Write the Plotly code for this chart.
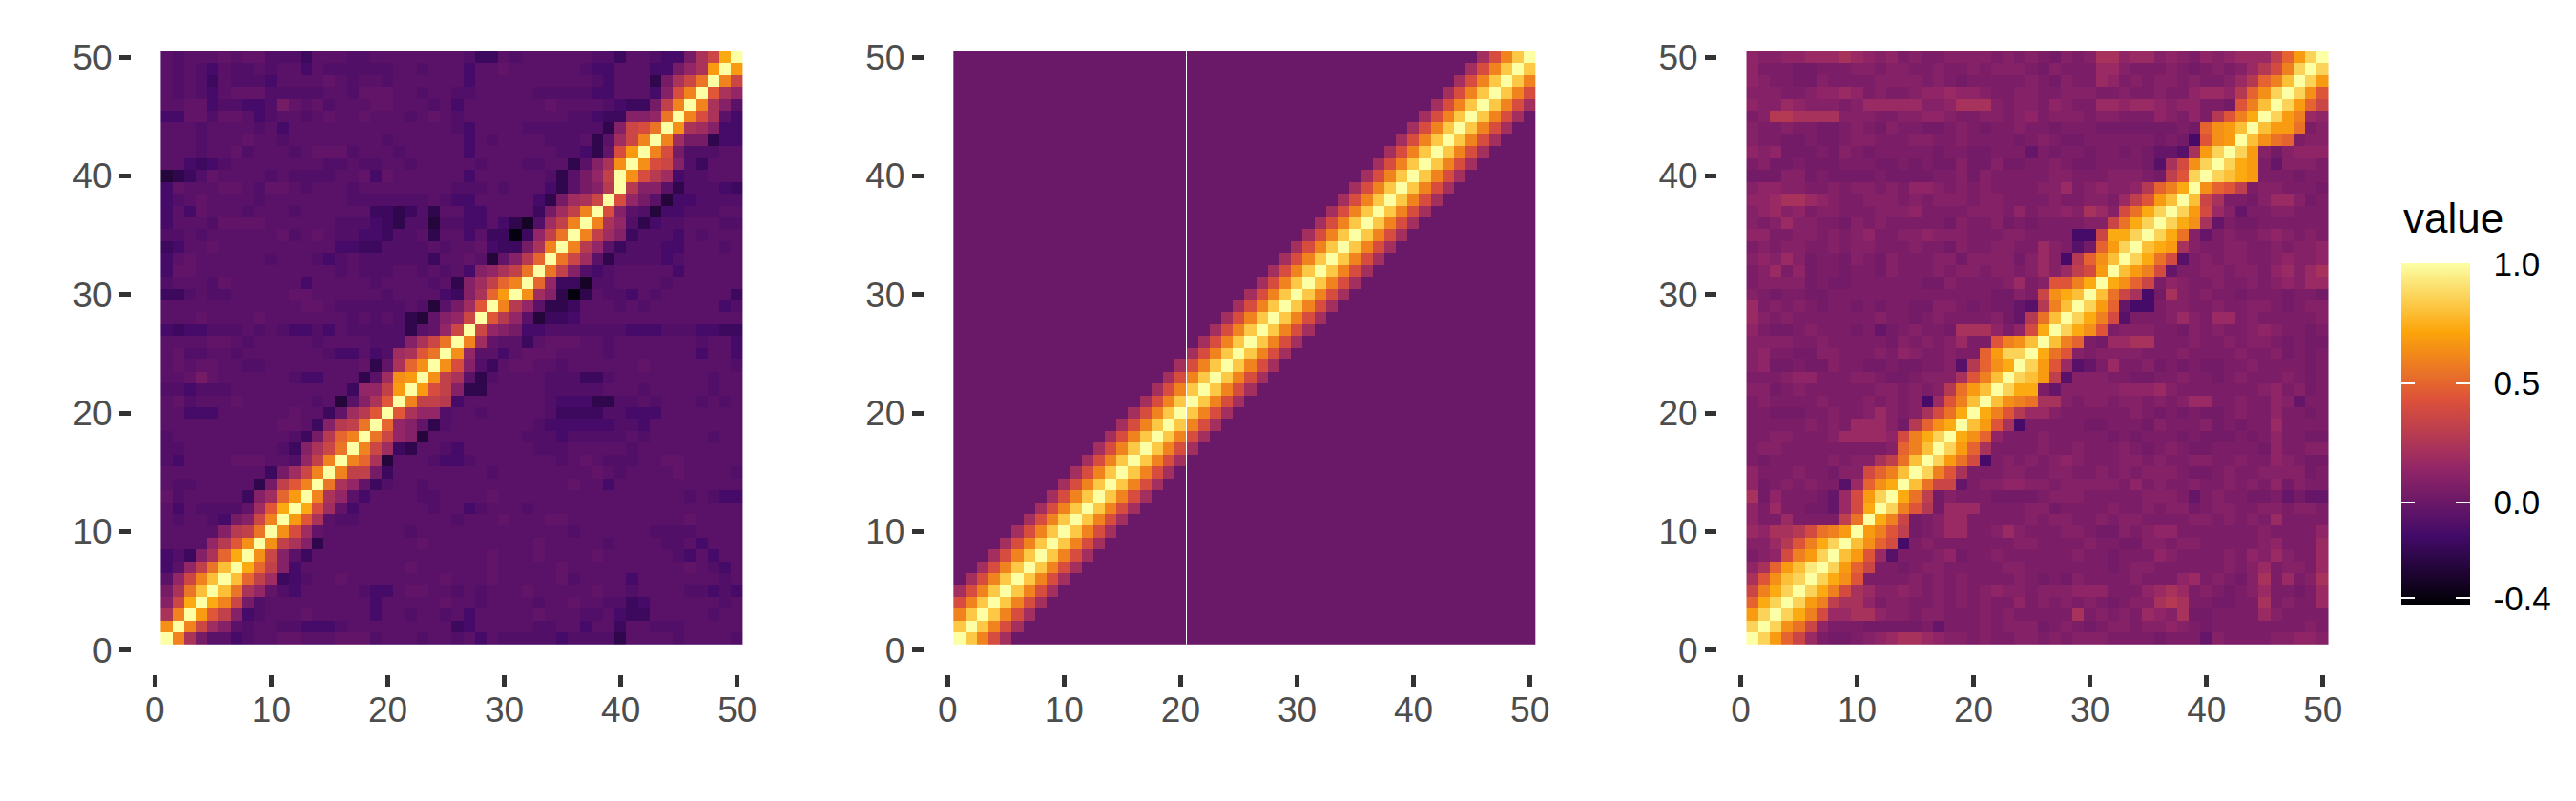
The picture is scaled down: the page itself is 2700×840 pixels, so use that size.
import plotly.graph_objects as go

# One character per cell. Rows run from y=50 (top) to y=1 (bottom).
LEVEL_CODES = list("0123456789ABCDEFGHIJKLMNOPQRST")
LEVEL_VALUES_LEFT = [-0.40, -0.33, -0.27, -0.22, -0.17, -0.13, -0.09, -0.06, -0.03, 0.04,
                     0.09, 0.14, 0.19, 0.23, 0.28, 0.32, 0.36, 0.40, 0.45, 0.50,
                     0.55, 0.60, 0.64, 0.68, 0.73, 0.80, 0.86, 0.93, 1.0, 0.825]
LEVEL_VALUES_MIDDLE = [-0.40, -0.35, -0.30, -0.25, -0.20, -0.15, -0.10, -0.05, 0.0, 0.05,
                       0.10, 0.15, 0.20, 0.25, 0.30, 0.35, 0.40, 0.45, 0.50, 0.55,
                       0.60, 0.65, 0.70, 0.75, 0.80, 0.85, 0.90, 0.95, 1.0, 0.825]
LEVEL_VALUES_RIGHT = [-0.40, -0.35, -0.30, -0.25, -0.20, -0.13, -0.07, -0.02, 0.03, 0.06,
                      0.09, 0.13, 0.17, 0.22, 0.27, 0.31, 0.35, 0.39, 0.44, 0.49,
                      0.54, 0.59, 0.64, 0.68, 0.73, 0.80, 0.86, 0.93, 1.0, 0.825]

cells_left = [
"7677787886 6647776677 7777776447 6777777664 776559DGOS",
"7676576676 7757666666 7767775778 7777776557 77559BDNSN",
"7676476665 7777876776 7777775777 7777777657 7739DGKSLG",
"7676578886 6666776888 7767766777 7766666557 775AHLSIDB",
"7788566556 9878677788 7776757777 7778777765 449FLSLDA7",
"5588688756 7767877877 7678767777 7777766544 AABKSLHD75",
"7776777767 5777777777 7777765777 766666663A GHKSMDCA55",
"7776777877 6777777776 7777775767 777666737C GLSLC99355",
"7776778677 7678886777 6777775777 777766538H NSLH966677",
"7754567777 7777667667 7677777677 7667737ADM SMHGA64777",
"2346877776 7666677858 7777775777 7776379BFS MHEC566777",
"5877788768 8767776777 7777766676 7775379AES EAA7366654",
"5678777767 7777776666 6667655777 77539CDGSH B972556666",
"5758777677 7677777744 3463775577 7749CFLSHA 7625566677",
"5777688887 7777766654 3662665575 316CFLSLDB 6356677766",
"6676777777 8678766554 6673775744 04BFKSLFCA 4666576777",
"4577877777 7777755446 6667677854 49DLSLEB74 6665577767",
"5787777776 7776567666 6664778728 AEJSKGC736 6665677777",
"5887777777 7777767666 7767675ABD FKSKFA6567 7777577777",
"6777687777 7757777767 777673ACFJ LSJB441667 7776777777",
"4467667777 7887777776 777754ADJN SMCA303766 5767777774",
"7777777777 7788766666 676279CISL EB73347776 7677777756",
"7778777787 7777776767 6328ABGSIE B724457777 7777777777",
"5455666767 6556576666 6378BGSGBA 9556666666 5556665544",
"7777887677 7776777766 6ADGKSLC87 7478887767 7777776775",
"7866776777 7777655756 CDIKSMB775 7888777767 7777775775",
"7878877667 7777777838 DJMSMHA647 8877677777 7877777776",
"7789877777 765577737C MNSMFD7367 7776664467 7777777677",
"6656667777 7777774BBF NSNHFA3377 7776666677 7677777677",
"7867778777 7776727ADI SLFFE57777 7776555336 6767776767",
"7755577777 787748CEIS IDBB677677 7776444466 5557777777",
"7777777777 8874AEFKSJ BA83677777 7765555556 6577777777",
"6777777777 7649EJLSKG BA27777777 7666566666 7677777677",
"6677777777 64ADGKSLGC 4377657777 7766677777 6777777777",
"6577778887 76BFLSLJD2 7776556777 7777678766 6778877777",
"7777777774 9CGLSLFF94 7777777767 7777777876 7777877776",
"7667777739 FILSKDB846 7767777777 7777787757 7777777777",
"86777774AC JNSLDB7577 7766777787 7777777777 7777767655",
"75766668CI OSOHC85777 7776775677 7677777777 7777777777",
"7677659AGL SNID766777 7777767778 7778877777 7777787777",
"77777AEFKS MHC8777777 7677777777 7777767777 7766667777",
"7777BEIMSM FDA3777777 7787777777 7787777767 7776675777",
"564ADJOSMG A747777777 7777777787 7787777877 7777657577",
"57BFKPSOJF A577777777 7877777787 7777877777 7777787657",
"7BGLPSPJFC 4567787777 7777877787 7777867777 5777777767",
"9DKPSPKDB8 6577777655 7887767677 7877777877 6777766565",
"AGOSOLG967 7777777757 7777877677 7767787766 4577777767",
"DLSNIFA567 7787777757 7677675777 7787776675 4477777677",
"MSLGCA7677 6655567777 7777745777 7766775774 7766677777",
"SLD9775677 8877788867 7767767576 6666566663 7777677776",
]

cells_middle = [
"8888888888 8888888888 8888888888 8888888888 88888CGKTS",
"8888888888 8888888888 8888888888 8888888888 8888CGKTST",
"8888888888 8888888888 8888888888 8888888888 888CGKTSTK",
"8888888888 8888888888 8888888888 8888888888 88CGKTSTKG",
"8888888888 8888888888 8888888888 8888888888 8CGKTSTKGC",
"8888888888 8888888888 8888888888 8888888888 CGKTSTKGC8",
"8888888888 8888888888 8888888888 888888888C GKTSTKGC88",
"8888888888 8888888888 8888888888 88888888CG KTSTKGC888",
"8888888888 8888888888 8888888888 8888888CGK TSTKGC8888",
"8888888888 8888888888 8888888888 888888CGKT STKGC88888",
"8888888888 8888888888 8888888888 88888CGKTS TKGC888888",
"8888888888 8888888888 8888888888 8888CGKTST KGC8888888",
"8888888888 8888888888 8888888888 888CGKTSTK GC88888888",
"8888888888 8888888888 8888888888 88CGKTSTKG C888888888",
"8888888888 8888888888 8888888888 8CGKTSTKGC 8888888888",
"8888888888 8888888888 8888888888 CGKTSTKGC8 8888888888",
"8888888888 8888888888 888888888C GKTSTKGC88 8888888888",
"8888888888 8888888888 88888888CG KTSTKGC888 8888888888",
"8888888888 8888888888 8888888CGK TSTKGC8888 8888888888",
"8888888888 8888888888 888888CGKT STKGC88888 8888888888",
"8888888888 8888888888 88888CGKTS TKGC888888 8888888888",
"8888888888 8888888888 8888CGKTST KGC8888888 8888888888",
"8888888888 8888888888 888CGKTSTK GC88888888 8888888888",
"8888888888 8888888888 88CGKTSTKG C888888888 8888888888",
"8888888888 8888888888 8CGKTSTKGC 8888888888 8888888888",
"8888888888 8888888888 CGKTSTKGC8 8888888888 8888888888",
"8888888888 888888888C GKTSTKGC88 8888888888 8888888888",
"8888888888 88888888CG KTSTKGC888 8888888888 8888888888",
"8888888888 8888888CGK TSTKGC8888 8888888888 8888888888",
"8888888888 888888CGKT STKGC88888 8888888888 8888888888",
"8888888888 88888CGKTS TKGC888888 8888888888 8888888888",
"8888888888 8888CGKTST KGC8888888 8888888888 8888888888",
"8888888888 888CGKTSTK GC88888888 8888888888 8888888888",
"8888888888 88CGKTSTKG C888888888 8888888888 8888888888",
"8888888888 8CGKTSTKGC 8888888888 8888888888 8888888888",
"8888888888 CGKTSTKGC8 8888888888 8888888888 8888888888",
"888888888C GKTSTKGC88 8888888888 8888888888 8888888888",
"88888888CG KTSTKGC888 8888888888 8888888888 8888888888",
"8888888CGK TSTKGC8888 8888888888 8888888888 8888888888",
"888888CGKT STKGC88888 8888888888 8888888888 8888888888",
"88888CGKTS TKGC888888 8888888888 8888888888 8888888888",
"8888CGKTST KGC8888888 8888888888 8888888888 8888888888",
"888CGKTSTK GC88888888 8888888888 8888888888 8888888888",
"88CGKTSTKG C888888888 8888888888 8888888888 8888888888",
"8CGKTSTKGC 8888888888 8888888888 8888888888 8888888888",
"CGKTSTKGC8 8888888888 8888888888 8888888888 8888888888",
"GKTSTKGC88 8888888888 8888888888 8888888888 8888888888",
"KTSTKGC888 8888888888 8888888888 8888888888 8888888888",
"TSTKGC8888 8888888888 8888888888 8888888888 8888888888",
"STKGC88888 8888888888 8888888888 8888888888 8888888888",
]

cells_right = [
"BAABBCCCDC BAB9A99AAA A9A9A98A9A DDBCCABA9B ABCCCFJNQS",
"B99988999A A9AA99A99A 9AAA98A999 CCA999A989 A9ACEHLQSQ",
"BA9988A999 9AAAA9A989 9999A98A99 CB9A9AA9A9 9ACEJLPSQN",
"AAA99ABBCB 9A99ABBCBB A99AA99AAA 99A99A99BC CBEJMQSQMI",
"BAACBAAA9A CCCCCAABDD DA9AA9BA99 CCBCCBABB9 98ILPSQNJG",
"9AEEDDDDAA A99AABBA99 AA9AB9AAA9 AA999BA9B9 EILOSQNLCB",
"A99A99889A 98A99889A9 899A998999 888888898J MNPSPNNK9A",
"A99889889A A999AA99A9 99989A9889 999998985I MNSPMKJ9AA",
"BAB88898A9 8999998998 8999798998 99898776DN QSQNA8ABBB",
"9A88988899 98898988A8 8A8899A988 999986DHMQ SQON97AAA9",
"888AA89888 89888899A8 A99999AA99 9AAA98FIQS QPON999899",
"ABBAA99A9A A9A9BBA9A9 A9999AAC9A BAABEJLOSM JIF9AA9998",
"BBCDDCBA99 AAA9A9AAA9 AA9999A99A A9CFINPSPG D998ACCA89",
"ABCAB9AA99 9AAAB9999A AA9B9AABAD CAHKOQSQNH CA799AA999",
"A9ACAA998A 9A999998A9 9A8989999A AGKOQSQOMD 7988999999",
"BB99AA9A9A B99AABAAA9 99AA999955 GOOQSQOKA7 9A99ABA9A9",
"9A9AA99A9A A999A998A9 9AA99CA968 JNQSPONDA9 9AA99A9AAB",
"ABACA8998A 98A999AA8A AAA8ACA5EJ MPSQOKH69A 9AA99ABAAB",
"9AC9B89989 98A999A9AA 9AA9ACACFH NSPNLH799A A9AA9BCACD",
"9AAAA89889 9999988A99 99AC9AIILO SOMJG9BA99 A99A9ABACC",
"A989988999 9999999999 988A9GMOPS PKGD58DA9A 9989998998",
"C9A9A98998 989988AA98 98876ELPSQ NJ7559AA99 A99AA989AA",
"CA9A999999 9A9989A999 9A87EKPSQO LH6999ACA9 CC9A99999A",
"B9889A9998 9789A998DD DB9BHOSQOM I9AAA998A9 A99ABA9989",
"AAAA99A999 998A9A9AC9 9ILMPSPLJ9 8CCDD999A9 9A9AA98988",
"AB9988AA99 9A9BA99A99 JNQQSOKIA9 AAAA999A99 99A99A8989",
"AB88988A99 8898899A6E JMOSQNIC67 9C99A89898 899A999989",
"999ABB999A A9889AAADI LPSQPNF6AA A998899A99 89A999A989",
"AA89A99999 9AA9A9AEKN PSQOO97AAA AABBBCA999 9999AB9A89",
"9A9999A999 A9A9A5CILP SPMLKDDA9A A9AA9A9ACC 99A99BA799",
"9988899A99 ACA9ADHKOS OLIECCA999 999A989898 89A99B9989",
"99999A9A9C CCA8EJMOSP NID5999998 89998A999A 89899C9999",
"99AA999ACC CCBHLOQSOM JB999A9999 9898999898 88989B9988",
"9AA9999999 99AJLPSQNJ D9999A99A9 99A989A988 99998B99AA",
"9899999A9A ADFKPSQNKH 59A9A9ABA9 99AA9A99AA 99A99BA988",
"B999A998AA HJLPSQLID9 99AA99AA99 A9A9AAA988 9A99AAAA89",
"B89A9A996C JMOSPKGG79 AABBAA9AAA AA9B9A99A9 9A9A9B8A99",
"D8B99987CH NQSOKF8A99 988889AAA9 9999AAA979 A998897877",
"B9C99887CH OSQLIE8CCC 9999AA8999 9A99A9AA89 AA99AA9AA9",
"B99C9999FK SOLG89ACC9 9999A9AA99 A9AA9999AA 9A9A9C9999",
"CBDDEHKLNS NLIF89ACC9 9ACA999AA9 88A9ABB999 9999A9999B",
"AACEILOQSP MJH59A9999 999AA9999A 9988AA9AA9 9999AB999C",
"9ABHLNQSPN IC6999AB89 9A999999A9 98999BA999 9A9BACA99C",
"BDJNPRSQNJ G9989AA999 99AA999999 989AA99999 9A9AC9AA9C",
"DIMPQSQOMI 9999A9A9A9 999A9898A9 999A999BC9 A98AD9C9AD",
"GLOQSQOLHD CAABA9A9A9 ABAA9AAABB B999BCDC9A 989AC9989C",
"JOQSQNLFDD B9AA99A9A9 A99B9A9A9A 989AADED99 8899D9A99C",
"NQSQOLHCCD DBAA9AA999 A9A99999D9 A9A9CBAD88 9999CA9999",
"QSQMKGB999 8888897999 A9AAA89A98 9AA9AABA98 99999999A9",
"SQNJGC9889 ABCDDCBAA9 A99AA9A9AA A999989997 A9999AABBA",
]

cell_index = list(range(1, 51))
axis_ticks = [0, 10, 20, 30, 40, 50]
legend_ticks = [-0.4, 0.0, 0.5, 1.0]
legend_labels = ["-0.4", "0.0", "0.5", "1.0"]
seam_x = 20.5

W, H = 2700, 840


def decode(rows, level_values):
    level = dict(zip(LEVEL_CODES, level_values))
    clean = [r.replace(" ", "") for r in rows]
    bad = [i for i, r in enumerate(clean) if len(r) != 50]
    if bad or len(clean) != 50:
        raise ValueError(f"bad rows {[(i, len(clean[i])) for i in bad]}, n={len(clean)}")
    return [[level[c] for c in r] for r in reversed(clean)]


inferno6 = [[0.0, "#000004"], [0.2, "#420A68"], [0.4, "#932667"],
            [0.6, "#DD513A"], [0.8, "#FCA50A"], [1.0, "#FCFFA4"]]
ZMIN, ZMAX = -0.428, 1.0

BAR_LEFT, BAR_RIGHT, BAR_TOP, BAR_BOTTOM = 2516.7, 2589.0, 276.0, 634.3
FONT = "Liberation Sans, Arial, sans-serif"

bar_common = dict(
    thicknessmode="pixels", lenmode="pixels", len=BAR_BOTTOM - BAR_TOP,
    y=(H - BAR_BOTTOM) / H, yanchor="bottom", xanchor="left", xpad=0, ypad=0,
    outlinewidth=0, borderwidth=0, tickmode="array",
    tickvals=legend_ticks, ticktext=legend_labels,
)

bar_main = dict(
    bar_common, x=BAR_LEFT / W, thickness=BAR_RIGHT - BAR_LEFT,
    ticks="outside", ticklen=18, tickcolor="rgba(0,0,0,0)", tickwidth=1,
    tickfont=dict(family=FONT, size=35, color="#000000"),
)
tick_common = dict(
    bar_common, thickness=14.4, ticks="inside", ticklen=14.4, tickwidth=1.6,
    tickcolor="#FFFFFF", showticklabels=False,
)
bar_left_ticks = dict(tick_common, x=BAR_LEFT / W)
bar_right_ticks = dict(tick_common, x=(BAR_RIGHT - 14.4) / W)

fig = go.Figure()
panels = [
    (cells_left, LEVEL_VALUES_LEFT, "x", "y", bar_main),
    (cells_middle, LEVEL_VALUES_MIDDLE, "x2", "y2", bar_left_ticks),
    (cells_right, LEVEL_VALUES_RIGHT, "x3", "y3", bar_right_ticks),
]
for cells, levels, xa, ya, bar in panels:
    fig.add_trace(go.Heatmap(
        x=cell_index, y=cell_index, z=decode(cells, levels), xaxis=xa, yaxis=ya,
        colorscale=inferno6, zmin=ZMIN, zmax=ZMAX, colorbar=bar, zsmooth=False,
        hoverinfo="skip",
    ))

PANEL_LEFT = [137.9, 968.8, 1800.0]
PANEL_WIDTH = 671.5
PANEL_TOP, PANEL_BOTTOM = 22.7, 706.6

axis_style = dict(
    range=[-2, 53], tickmode="array", tickvals=axis_ticks, showgrid=False,
    zeroline=False, showline=False, ticks="outside", ticklen=12, tickwidth=4.5,
    tickcolor="#333333", tickfont=dict(family=FONT, size=37, color="#4D4D4D"),
)
layout_axes = {}
for i, left in enumerate(PANEL_LEFT):
    suffix = "" if i == 0 else str(i + 1)
    layout_axes[f"xaxis{suffix}"] = dict(
        axis_style, domain=[left / W, (left + PANEL_WIDTH) / W],
        anchor=f"y{suffix}", ticklabelstandoff=-7,
    )
    layout_axes[f"yaxis{suffix}"] = dict(
        axis_style, domain=[(H - PANEL_BOTTOM) / H, (H - PANEL_TOP) / H],
        anchor=f"x{suffix}",
    )

fig.update_layout(
    width=W, height=H, margin=dict(l=0, r=0, t=0, b=0, autoexpand=False),
    paper_bgcolor="#FFFFFF", plot_bgcolor="#FFFFFF", showlegend=False,
    **layout_axes,
)
fig.add_annotation(text="value", xref="paper", yref="paper", x=BAR_LEFT / W, y=(H - 255) / H,
                   xanchor="left", yanchor="bottom", showarrow=False,
                   font=dict(family=FONT, size=44, color="#000000"))
fig.add_shape(type="line", xref="x2", yref="y2", x0=seam_x, x1=seam_x, y0=0.5, y1=50.5,
              line=dict(color="#FFFFFF", width=1), layer="above")

fig.write_html("out.html", config=dict(displayModeBar=False),
               post_script="document.body.style.margin='0';")
